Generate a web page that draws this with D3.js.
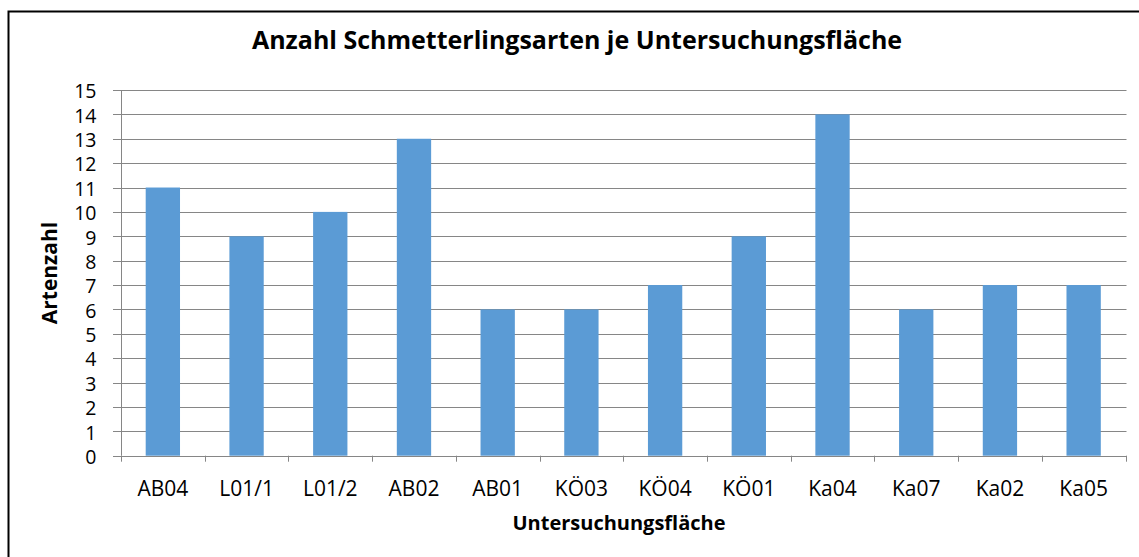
<!DOCTYPE html>
<html><head><meta charset="utf-8">
<script src="https://cdn.jsdelivr.net/npm/d3@7"></script>
<style>body{margin:0;background:#fff}svg{display:block}</style>
</head><body>
<svg id="c" width="1139" height="557"></svg>
<script>
const categories = ["AB04","L01/1","L01/2","AB02","AB01","KÖ03","KÖ04","KÖ01","Ka04","Ka07","Ka02","Ka05"];
const values = [11,9,10,13,6,6,7,9,14,6,7,7];
const yTicks = [0,1,2,3,4,5,6,7,8,9,10,11,12,13,14,15];
const title = "Anzahl Schmetterlingsarten je Untersuchungsfläche";
const xTitle = "Untersuchungsfläche";
const yTitle = "Artenzahl";

(function(){
const svg = d3.select("#c");
const font = "'Open Sans', 'Liberation Sans', sans-serif";
const pLeft = 121, pRight = 1125.5, pTop = 90, pBottom = 455.7;
const grid = "#868686";

// frame (cropped on right and bottom)
svg.append("rect").attr("x",8.5).attr("y",11.5).attr("width",1200).attr("height",600)
  .attr("fill","none").attr("stroke","#000").attr("stroke-width",2);

const x = d3.scaleBand().domain(categories).range([pLeft,pRight]).padding(0);
const y = d3.scaleLinear().domain([0,15]).range([pBottom,pTop]);

// gridlines
svg.append("g").selectAll("line").data(yTicks).join("line")
  .attr("x1",pLeft-8).attr("x2",pRight+1)
  .attr("y1",d=>Math.round(y(d))+0.5).attr("y2",d=>Math.round(y(d))+0.5)
  .attr("stroke",grid).attr("stroke-width",1);

// y axis line
svg.append("line").attr("x1",pLeft+0.5).attr("x2",pLeft+0.5).attr("y1",y(15)).attr("y2",pBottom)
  .attr("stroke",grid);

// y tick labels
svg.append("g").selectAll("text").data(yTicks).join("text")
  .attr("x",96.5).attr("y",d=>y(d)+8.3).attr("text-anchor","end")
  .attr("font-family",font).attr("font-size",19.5).attr("fill","#000").text(d=>d);

// x ticks
const bounds = categories.map(c=>x(c)).concat([pRight]);
svg.append("g").selectAll("line").data(bounds).join("line")
  .attr("x1",d=>Math.round(d)+0.5).attr("x2",d=>Math.round(d)+0.5)
  .attr("y1",pBottom).attr("y2",pBottom+6).attr("stroke",grid);

// bars
const bw = x.bandwidth()*0.41;
svg.append("g").selectAll("rect").data(categories).join("rect")
  .attr("x",d=>x(d)+(x.bandwidth()-bw)/2).attr("width",bw)
  .attr("y",(d,i)=>y(values[i])).attr("height",(d,i)=>pBottom-y(values[i]))
  .attr("fill","#5B9BD5");

// x labels
svg.append("g").selectAll("text").data(categories).join("text")
  .attr("x",d=>x(d)+x.bandwidth()/2).attr("y",496).attr("text-anchor","middle")
  .attr("font-family",font).attr("font-size",21).attr("fill","#000").text(d=>d);

// titles
svg.append("text").attr("x",577).attr("y",49).attr("text-anchor","middle")
  .attr("font-family",font).attr("font-size",25).attr("font-weight","bold").text(title);
svg.append("text").attr("x",619).attr("y",530).attr("text-anchor","middle")
  .attr("font-family",font).attr("font-size",20).attr("font-weight","bold").text(xTitle);
svg.append("text").attr("transform","translate(57,273) rotate(-90)").attr("text-anchor","middle")
  .attr("font-family",font).attr("font-size",21).attr("font-weight","bold").text(yTitle);
})();
</script>
</body></html>
